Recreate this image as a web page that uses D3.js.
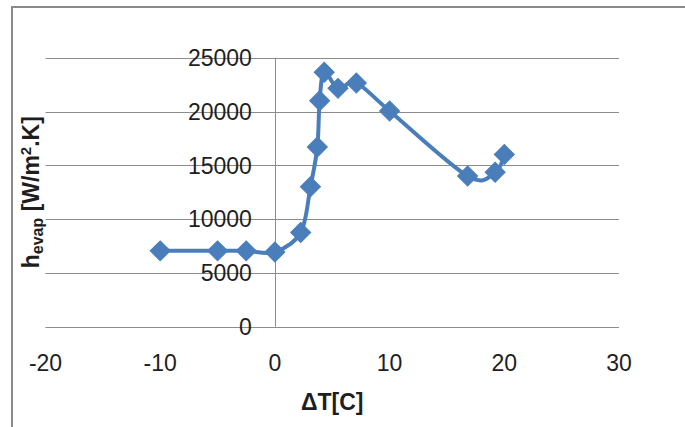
<!DOCTYPE html>
<html><head><meta charset="utf-8">
<script src="https://cdn.jsdelivr.net/npm/d3@7"></script>
<style>
html,body{margin:0;padding:0;background:#fff;}
svg{display:block;}
text{font-family:"Liberation Sans",Arial,sans-serif;}
</style></head>
<body>
<svg id="chart" width="685" height="427"></svg>
<script>
const deltaT = [-10, -5, -2.5, 0, 2.25, 3.1, 3.7, 3.9, 4.3, 5.5, 7.1, 10, 16.8, 19.2, 20];
const hEvap  = [7050, 7050, 7050, 6950, 8750, 13000, 16700, 21000, 23650, 22150, 22650, 20050, 14000, 14350, 16000];
const xTicks = [-20, -10, 0, 10, 20, 30];
const yTicks = [0, 5000, 10000, 15000, 20000, 25000];

const svg = d3.select("#chart");
const x = d3.scaleLinear().domain([-20, 30]).range([45.5, 619]);
const y = d3.scaleLinear().domain([0, 25000]).range([326.7, 57.7]);

// chart border
svg.append("path")
  .attr("d", "M12,430 L12,7 L690,7")
  .attr("fill", "none").attr("stroke", "#8a8a8a").attr("stroke-width", 2);

// horizontal gridlines
svg.append("g").selectAll("line").data(yTicks).join("line")
  .attr("x1", x(-20)).attr("x2", x(30))
  .attr("y1", d => Math.round(y(d)) + 0.5).attr("y2", d => Math.round(y(d)) + 0.5)
  .attr("stroke", "#8c8c8c").attr("stroke-width", 1);

// vertical axis at x=0
svg.append("line")
  .attr("x1", Math.round(x(0)) + 0.5).attr("x2", Math.round(x(0)) + 0.5)
  .attr("y1", y(25000)).attr("y2", y(0))
  .attr("stroke", "#8c8c8c").attr("stroke-width", 1);

// y tick labels
svg.append("g").selectAll("text").data(yTicks).join("text")
  .attr("x", x(0) - 23).attr("y", d => y(d))
  .attr("dy", "0.36em").attr("text-anchor", "end")
  .attr("font-size", 23).attr("fill", "#1e1e1e")
  .text(d => d);

// x tick labels
svg.append("g").selectAll("text").data(xTicks).join("text")
  .attr("x", d => x(d)).attr("y", 363)
  .attr("dy", "0.36em").attr("text-anchor", "middle")
  .attr("font-size", 23).attr("fill", "#1e1e1e")
  .text(d => d);

// x title
svg.append("text")
  .attr("x", (x(-20) + x(30)) / 2).attr("y", 402).attr("dy", "0.36em")
  .attr("text-anchor", "middle").attr("font-size", 23).attr("font-weight", "bold")
  .attr("fill", "#1e1e1e").text("ΔT[C]");

// y title
const yt = svg.append("text")
  .attr("transform", `translate(39,${(y(0) + y(25000)) / 2}) rotate(-90)`)
  .attr("text-anchor", "middle").attr("font-size", 23).attr("font-weight", "bold")
  .attr("fill", "#1e1e1e");
yt.append("tspan").text("h");
yt.append("tspan").attr("font-size", 16).attr("dy", 4).text("evap");
yt.append("tspan").attr("dy", -4).text(" [W/m");
yt.append("tspan").attr("font-size", 15).attr("dy", -8).text("2");
yt.append("tspan").attr("dy", 8).text(".K]");

// data
const pts = deltaT.map((d, i) => [d, hEvap[i]]);
const line = d3.line().x(d => x(d[0])).y(d => y(d[1])).curve(d3.curveCardinal.tension(0));
svg.append("path").datum(pts).attr("d", line)
  .attr("fill", "none").attr("stroke", "#4a7ebb").attr("stroke-width", 4)
  .attr("stroke-linejoin", "round");

const sym = d3.symbol().type(d3.symbolSquare).size(200);
svg.append("g").selectAll("path").data(pts).join("path")
  .attr("d", sym)
  .attr("transform", d => `translate(${x(d[0])},${y(d[1])}) rotate(45)`)
  .attr("fill", "#4a7ebb").attr("stroke", "#4a7ebb").attr("stroke-width", 1);
</script>
</body></html>
